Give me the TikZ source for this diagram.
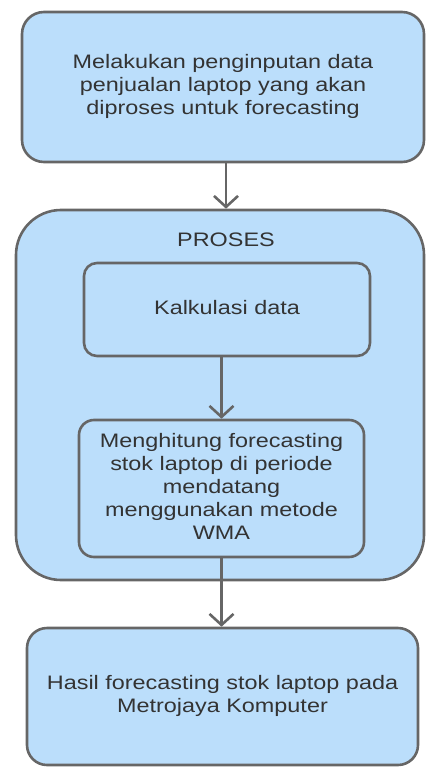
\documentclass[tikz,border=0pt]{standalone}
\usepackage{fontspec}
\setmainfont{Liberation Sans}
\usetikzlibrary{arrows.meta}
\definecolor{boxfill}{HTML}{BBDEFB}
\definecolor{boxline}{HTML}{666666}
\definecolor{txt}{HTML}{333333}
\newcommand{\btext}[1]{\scalebox{1.2}[1]{\fontsize{19.5}{23}\selectfont\begin{tabular}{@{}c@{}}#1\end{tabular}}}
\begin{document}
\begin{tikzpicture}[x=1pt,y=-1pt,
  box/.style={draw=boxline, fill=boxfill, line width=2.6pt, rectangle, inner sep=0pt, text=txt, align=center},
  arr/.style={draw=boxline, line width=2.6pt, -{Straight Barb[length=11pt,width=24pt,line width=2.6pt]}},
  lbl/.style={text=txt, inner sep=0pt}]
\useasboundingbox (0,0) rectangle (425,767);
\node[box, rounded corners=22pt, minimum width=402pt, minimum height=150pt] (input) at (223,87)
  {\btext{Melakukan penginputan data\\penjualan laptop yang akan\\diproses untuk forecasting}};
\node[box, rounded corners=45pt, minimum width=408pt, minimum height=370pt] (proses) at (220,395) {};
\node[lbl] (proseslbl) at (226,242) {\btext{PROSES}};
\node[box, rounded corners=13pt, minimum width=286pt, minimum height=93pt] (kalk) at (227,309.5)
  {\btext{Kalkulasi data}};
\node[box, rounded corners=15pt, minimum width=285pt, minimum height=137pt] (hitung) at (221.5,488.5)
  {\btext{Menghitung forecasting\\stok laptop di periode\\mendatang\\menggunakan metode\\WMA}};
\node[box, rounded corners=20pt, minimum width=391pt, minimum height=137pt] (hasil) at (222.5,696.5)
  {\btext{Hasil forecasting stok laptop pada\\Metrojaya Komputer}};
\draw[arr] ([xshift=3pt]input.south) -- ([xshift=3pt]input.south |- proses.north);
\draw[arr] (hitung.north |- kalk.south) -- (hitung.north);
\draw[arr] (hitung.south) -- (hitung.south |- hasil.north);
\end{tikzpicture}
\end{document}
